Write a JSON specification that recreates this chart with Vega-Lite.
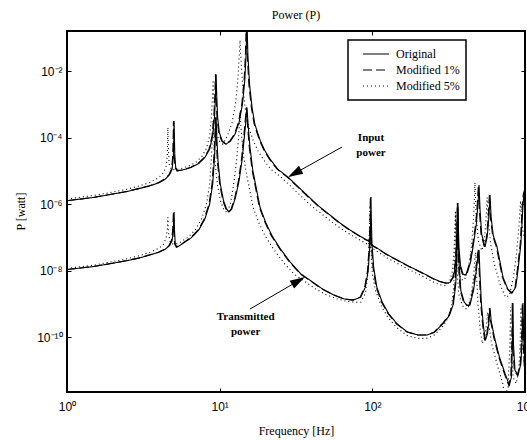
{
  "$schema": "https://vega.github.io/schema/vega-lite/v6.json",
  "width": 458,
  "height": 361,
  "autosize": {"type": "none"},
  "padding": {"left": 67, "top": 31, "right": 2, "bottom": 48},
  "background": "white",
  "config": {
    "view": {"stroke": "black", "strokeWidth": 2},
    "axis": {"grid": false, "domain": false, "tickColor": "black", "labelColor": "black", "titleColor": "black", "labelFlush": false, "labelOverlap": false, "labelBound": false},
    "legend": {"strokeWidth": 1.5}
  },
  "title": {"text": "Power (P)", "font": "Liberation Serif", "fontSize": 12, "fontWeight": "normal", "color": "black", "anchor": "middle", "offset": 9},
  "datasets": {
    "curves": [
      {"c":"IO","s":"Original","f":1,"p":1.26e-6},{"c":"IO","s":"Original","f":1.5,"p":1.58e-6},{"c":"IO","s":"Original","f":2,"p":2.0e-6},{"c":"IO","s":"Original","f":2.5,"p":2.4e-6},{"c":"IO","s":"Original","f":3,"p":2.95e-6},{"c":"IO","s":"Original","f":3.5,"p":3.55e-6},{"c":"IO","s":"Original","f":4,"p":4.37e-6},{"c":"IO","s":"Original","f":4.4,"p":5.62e-6},{"c":"IO","s":"Original","f":4.7,"p":7.59e-6},{"c":"IO","s":"Original","f":4.88,"p":1.12e-5},{"c":"IO","s":"Original","f":4.97,"p":2.51e-5},{"c":"IO","s":"Original","f":5.01,"p":1.0e-4},{"c":"IO","s":"Original","f":5.03,"p":3.16e-4},{"c":"IO","s":"Original","f":5.05,"p":1.26e-4},{"c":"IO","s":"Original","f":5.08,"p":3.16e-5},{"c":"IO","s":"Original","f":5.15,"p":1.26e-5},{"c":"IO","s":"Original","f":5.3,"p":1.0e-5},{"c":"IO","s":"Original","f":5.7,"p":1.05e-5},{"c":"IO","s":"Original","f":6.5,"p":1.26e-5},{"c":"IO","s":"Original","f":7.3,"p":1.66e-5},{"c":"IO","s":"Original","f":8.0,"p":2.51e-5},{"c":"IO","s":"Original","f":8.6,"p":4.47e-5},{"c":"IO","s":"Original","f":9.0,"p":1.12e-4},{"c":"IO","s":"Original","f":9.25,"p":3.98e-4},{"c":"IO","s":"Original","f":9.4,"p":2.0e-3},{"c":"IO","s":"Original","f":9.48,"p":7.94e-3},{"c":"IO","s":"Original","f":9.56,"p":2.0e-3},{"c":"IO","s":"Original","f":9.7,"p":3.98e-4},{"c":"IO","s":"Original","f":9.95,"p":1.41e-4},{"c":"IO","s":"Original","f":10.4,"p":7.94e-5},{"c":"IO","s":"Original","f":11.0,"p":6.31e-5},{"c":"IO","s":"Original","f":11.8,"p":7.94e-5},{"c":"IO","s":"Original","f":12.6,"p":1.26e-4},{"c":"IO","s":"Original","f":13.4,"p":2.82e-4},{"c":"IO","s":"Original","f":14.1,"p":1.0e-3},{"c":"IO","s":"Original","f":14.6,"p":5.01e-3},{"c":"IO","s":"Original","f":14.9,"p":3.16e-2},{"c":"IO","s":"Original","f":15.1,"p":3.16e-1},{"c":"IO","s":"Original","f":15.3,"p":3.16e-2},{"c":"IO","s":"Original","f":15.7,"p":3.98e-3},{"c":"IO","s":"Original","f":16.3,"p":7.94e-4},{"c":"IO","s":"Original","f":17.0,"p":2.51e-4},{"c":"IO","s":"Original","f":18.4,"p":8.32e-5},{"c":"IO","s":"Original","f":19.8,"p":3.98e-5},{"c":"IO","s":"Original","f":21.4,"p":2.24e-5},{"c":"IO","s":"Original","f":24,"p":1.12e-5},{"c":"IO","s":"Original","f":28,"p":6.46e-6},{"c":"IO","s":"Original","f":33,"p":3.16e-6},{"c":"IO","s":"Original","f":39.1,"p":1.51e-6},{"c":"IO","s":"Original","f":45,"p":8.32e-7},{"c":"IO","s":"Original","f":52.8,"p":4.68e-7},{"c":"IO","s":"Original","f":61,"p":2.75e-7},{"c":"IO","s":"Original","f":71.4,"p":1.66e-7},{"c":"IO","s":"Original","f":82,"p":1.12e-7},{"c":"IO","s":"Original","f":92,"p":8.32e-8},{"c":"IO","s":"Original","f":96,"p":7.59e-8},{"c":"IO","s":"Original","f":97.5,"p":1.41e-7},{"c":"IO","s":"Original","f":98.5,"p":6.31e-8},{"c":"IO","s":"Original","f":100.5,"p":5.62e-8},{"c":"IO","s":"Original","f":107,"p":4.79e-8},{"c":"IO","s":"Original","f":125,"p":3.02e-8},{"c":"IO","s":"Original","f":145,"p":2.09e-8},{"c":"IO","s":"Original","f":175,"p":1.32e-8},{"c":"IO","s":"Original","f":215,"p":8.32e-9},{"c":"IO","s":"Original","f":250,"p":5.75e-9},{"c":"IO","s":"Original","f":277,"p":4.68e-9},{"c":"IO","s":"Original","f":305,"p":4.17e-9},{"c":"IO","s":"Original","f":323,"p":4.37e-9},{"c":"IO","s":"Original","f":340,"p":6.31e-9},{"c":"IO","s":"Original","f":352,"p":1.58e-8},{"c":"IO","s":"Original","f":359,"p":7.94e-8},{"c":"IO","s":"Original","f":362.5,"p":3.98e-7},{"c":"IO","s":"Original","f":364,"p":1.07e-6},{"c":"IO","s":"Original","f":365.5,"p":3.16e-7},{"c":"IO","s":"Original","f":369,"p":5.01e-8},{"c":"IO","s":"Original","f":378,"p":1.41e-8},{"c":"IO","s":"Original","f":392,"p":7.94e-9},{"c":"IO","s":"Original","f":405,"p":7.24e-9},{"c":"IO","s":"Original","f":420,"p":8.91e-9},{"c":"IO","s":"Original","f":440,"p":1.78e-8},{"c":"IO","s":"Original","f":460,"p":6.31e-8},{"c":"IO","s":"Original","f":480,"p":2.51e-7},{"c":"IO","s":"Original","f":492,"p":1.0e-6},{"c":"IO","s":"Original","f":500,"p":3.72e-6},{"c":"IO","s":"Original","f":508,"p":6.31e-7},{"c":"IO","s":"Original","f":520,"p":1.26e-7},{"c":"IO","s":"Original","f":547,"p":5.13e-8},{"c":"IO","s":"Original","f":565,"p":1.0e-7},{"c":"IO","s":"Original","f":580,"p":3.98e-7},{"c":"IO","s":"Original","f":590,"p":1.86e-6},{"c":"IO","s":"Original","f":600,"p":3.98e-7},{"c":"IO","s":"Original","f":620,"p":1.12e-7},{"c":"IO","s":"Original","f":656,"p":5.13e-8},{"c":"IO","s":"Original","f":718,"p":6.31e-9},{"c":"IO","s":"Original","f":770,"p":2.82e-9},{"c":"IO","s":"Original","f":822,"p":2.09e-9},{"c":"IO","s":"Original","f":870,"p":3.16e-9},{"c":"IO","s":"Original","f":900,"p":1.05e-8},{"c":"IO","s":"Original","f":940,"p":6.31e-8},{"c":"IO","s":"Original","f":970,"p":9.33e-7},{"c":"IO","s":"Original","f":985,"p":2.0e-6},{"c":"IO","s":"Original","f":1000,"p":2.51e-6},

      {"c":"TO","s":"Original","f":1,"p":1.07e-8},{"c":"TO","s":"Original","f":1.5,"p":1.32e-8},{"c":"TO","s":"Original","f":2,"p":1.66e-8},{"c":"TO","s":"Original","f":2.5,"p":2.0e-8},{"c":"TO","s":"Original","f":3,"p":2.4e-8},{"c":"TO","s":"Original","f":3.5,"p":2.95e-8},{"c":"TO","s":"Original","f":4,"p":3.55e-8},{"c":"TO","s":"Original","f":4.4,"p":4.37e-8},{"c":"TO","s":"Original","f":4.7,"p":5.62e-8},{"c":"TO","s":"Original","f":4.88,"p":7.94e-8},{"c":"TO","s":"Original","f":4.97,"p":1.58e-7},{"c":"TO","s":"Original","f":5.03,"p":5.75e-7},{"c":"TO","s":"Original","f":5.06,"p":1.58e-7},{"c":"TO","s":"Original","f":5.12,"p":6.31e-8},{"c":"TO","s":"Original","f":5.25,"p":5.01e-8},{"c":"TO","s":"Original","f":5.6,"p":6.03e-8},{"c":"TO","s":"Original","f":6.5,"p":9.55e-8},{"c":"TO","s":"Original","f":7.3,"p":1.66e-7},{"c":"TO","s":"Original","f":8.0,"p":3.55e-7},{"c":"TO","s":"Original","f":8.6,"p":1.0e-6},{"c":"TO","s":"Original","f":9.0,"p":3.98e-6},{"c":"TO","s":"Original","f":9.25,"p":2.51e-5},{"c":"TO","s":"Original","f":9.42,"p":1.58e-4},{"c":"TO","s":"Original","f":9.48,"p":3.98e-4},{"c":"TO","s":"Original","f":9.56,"p":1.26e-4},{"c":"TO","s":"Original","f":9.75,"p":2.0e-5},{"c":"TO","s":"Original","f":10.1,"p":3.98e-6},{"c":"TO","s":"Original","f":10.6,"p":1.26e-6},{"c":"TO","s":"Original","f":11.1,"p":7.08e-7},{"c":"TO","s":"Original","f":11.5,"p":5.75e-7},{"c":"TO","s":"Original","f":12.0,"p":7.08e-7},{"c":"TO","s":"Original","f":12.7,"p":1.58e-6},{"c":"TO","s":"Original","f":13.4,"p":5.01e-6},{"c":"TO","s":"Original","f":14.0,"p":2.0e-5},{"c":"TO","s":"Original","f":14.5,"p":1.0e-4},{"c":"TO","s":"Original","f":14.85,"p":3.16e-4},{"c":"TO","s":"Original","f":15.1,"p":7.94e-4},{"c":"TO","s":"Original","f":15.35,"p":2.51e-4},{"c":"TO","s":"Original","f":15.8,"p":5.01e-5},{"c":"TO","s":"Original","f":16.5,"p":1.0e-5},{"c":"TO","s":"Original","f":17.5,"p":2.51e-6},{"c":"TO","s":"Original","f":18.4,"p":7.94e-7},{"c":"TO","s":"Original","f":20,"p":2.82e-7},{"c":"TO","s":"Original","f":22,"p":1.12e-7},{"c":"TO","s":"Original","f":25,"p":4.47e-8},{"c":"TO","s":"Original","f":29,"p":1.78e-8},{"c":"TO","s":"Original","f":34,"p":7.94e-9},{"c":"TO","s":"Original","f":39,"p":5.13e-9},{"c":"TO","s":"Original","f":47,"p":2.82e-9},{"c":"TO","s":"Original","f":55,"p":1.91e-9},{"c":"TO","s":"Original","f":65,"p":1.41e-9},{"c":"TO","s":"Original","f":75,"p":1.29e-9},{"c":"TO","s":"Original","f":84,"p":1.58e-9},{"c":"TO","s":"Original","f":90,"p":3.16e-9},{"c":"TO","s":"Original","f":94,"p":1.0e-8},{"c":"TO","s":"Original","f":96.5,"p":6.31e-8},{"c":"TO","s":"Original","f":97.6,"p":3.98e-7},{"c":"TO","s":"Original","f":98,"p":1.62e-6},{"c":"TO","s":"Original","f":98.4,"p":3.98e-7},{"c":"TO","s":"Original","f":99.5,"p":6.31e-8},{"c":"TO","s":"Original","f":102,"p":1.26e-8},{"c":"TO","s":"Original","f":107,"p":3.16e-9},{"c":"TO","s":"Original","f":116,"p":1.12e-9},{"c":"TO","s":"Original","f":128,"p":5.01e-10},{"c":"TO","s":"Original","f":145,"p":2.51e-10},{"c":"TO","s":"Original","f":170,"p":1.41e-10},{"c":"TO","s":"Original","f":200,"p":1.15e-10},{"c":"TO","s":"Original","f":228,"p":1.15e-10},{"c":"TO","s":"Original","f":255,"p":1.38e-10},{"c":"TO","s":"Original","f":290,"p":2.51e-10},{"c":"TO","s":"Original","f":320,"p":4.47e-10},{"c":"TO","s":"Original","f":340,"p":1.0e-9},{"c":"TO","s":"Original","f":352,"p":3.98e-9},{"c":"TO","s":"Original","f":359,"p":3.98e-8},{"c":"TO","s":"Original","f":362.5,"p":2.51e-7},{"c":"TO","s":"Original","f":364,"p":7.94e-7},{"c":"TO","s":"Original","f":365.5,"p":2.0e-7},{"c":"TO","s":"Original","f":369,"p":2.0e-8},{"c":"TO","s":"Original","f":380,"p":2.51e-9},{"c":"TO","s":"Original","f":400,"p":1.12e-9},{"c":"TO","s":"Original","f":420,"p":8.91e-10},{"c":"TO","s":"Original","f":436,"p":9.12e-10},{"c":"TO","s":"Original","f":460,"p":2.51e-9},{"c":"TO","s":"Original","f":480,"p":1.0e-8},{"c":"TO","s":"Original","f":494,"p":3.16e-8},{"c":"TO","s":"Original","f":500,"p":4.17e-8},{"c":"TO","s":"Original","f":506,"p":1.0e-8},{"c":"TO","s":"Original","f":518,"p":1.0e-9},{"c":"TO","s":"Original","f":535,"p":2.0e-10},{"c":"TO","s":"Original","f":550,"p":7.94e-11},{"c":"TO","s":"Original","f":568,"p":1.26e-10},{"c":"TO","s":"Original","f":582,"p":3.16e-10},{"c":"TO","s":"Original","f":590,"p":7.41e-10},{"c":"TO","s":"Original","f":600,"p":3.16e-10},{"c":"TO","s":"Original","f":630,"p":1.0e-10},{"c":"TO","s":"Original","f":680,"p":2.51e-11},{"c":"TO","s":"Original","f":740,"p":7.94e-12},{"c":"TO","s":"Original","f":790,"p":3.55e-12},{"c":"TO","s":"Original","f":815,"p":6.31e-12},{"c":"TO","s":"Original","f":828,"p":6.31e-11},{"c":"TO","s":"Original","f":834,"p":1.05e-9},{"c":"TO","s":"Original","f":840,"p":6.31e-11},{"c":"TO","s":"Original","f":860,"p":1.0e-11},{"c":"TO","s":"Original","f":900,"p":7.08e-12},{"c":"TO","s":"Original","f":940,"p":1.58e-11},{"c":"TO","s":"Original","f":960,"p":1.0e-10},{"c":"TO","s":"Original","f":970,"p":1.05e-9},{"c":"TO","s":"Original","f":980,"p":1.0e-10},{"c":"TO","s":"Original","f":1000,"p":1.26e-11},

      {"c":"I1","s":"Modified 1%","f":1,"p":1.26e-6},{"c":"I1","s":"Modified 1%","f":1.485,"p":1.58e-6},{"c":"I1","s":"Modified 1%","f":1.98,"p":2.0e-6},{"c":"I1","s":"Modified 1%","f":2.475,"p":2.4e-6},{"c":"I1","s":"Modified 1%","f":2.97,"p":2.95e-6},{"c":"I1","s":"Modified 1%","f":3.465,"p":3.55e-6},{"c":"I1","s":"Modified 1%","f":3.96,"p":4.37e-6},{"c":"I1","s":"Modified 1%","f":4.356,"p":5.62e-6},{"c":"I1","s":"Modified 1%","f":4.653,"p":7.59e-6},{"c":"I1","s":"Modified 1%","f":4.831,"p":1.12e-5},{"c":"I1","s":"Modified 1%","f":4.92,"p":2.51e-5},{"c":"I1","s":"Modified 1%","f":4.96,"p":1.0e-4},{"c":"I1","s":"Modified 1%","f":4.98,"p":3.16e-4},{"c":"I1","s":"Modified 1%","f":5.0,"p":1.26e-4},{"c":"I1","s":"Modified 1%","f":5.029,"p":3.16e-5},{"c":"I1","s":"Modified 1%","f":5.099,"p":1.26e-5},{"c":"I1","s":"Modified 1%","f":5.247,"p":1.0e-5},{"c":"I1","s":"Modified 1%","f":5.643,"p":1.05e-5},{"c":"I1","s":"Modified 1%","f":6.435,"p":1.26e-5},{"c":"I1","s":"Modified 1%","f":7.227,"p":1.66e-5},{"c":"I1","s":"Modified 1%","f":7.92,"p":2.51e-5},{"c":"I1","s":"Modified 1%","f":8.514,"p":4.47e-5},{"c":"I1","s":"Modified 1%","f":8.91,"p":1.12e-4},{"c":"I1","s":"Modified 1%","f":9.158,"p":3.98e-4},{"c":"I1","s":"Modified 1%","f":9.306,"p":2.0e-3},{"c":"I1","s":"Modified 1%","f":9.385,"p":7.94e-3},{"c":"I1","s":"Modified 1%","f":9.464,"p":2.0e-3},{"c":"I1","s":"Modified 1%","f":9.603,"p":3.98e-4},{"c":"I1","s":"Modified 1%","f":9.851,"p":1.41e-4},{"c":"I1","s":"Modified 1%","f":10.3,"p":7.94e-5},{"c":"I1","s":"Modified 1%","f":10.89,"p":6.31e-5},{"c":"I1","s":"Modified 1%","f":11.68,"p":7.94e-5},{"c":"I1","s":"Modified 1%","f":12.47,"p":1.26e-4},{"c":"I1","s":"Modified 1%","f":13.27,"p":2.82e-4},{"c":"I1","s":"Modified 1%","f":13.96,"p":1.0e-3},{"c":"I1","s":"Modified 1%","f":14.45,"p":5.01e-3},{"c":"I1","s":"Modified 1%","f":14.75,"p":3.16e-2},{"c":"I1","s":"Modified 1%","f":14.95,"p":3.16e-1},{"c":"I1","s":"Modified 1%","f":15.15,"p":3.16e-2},{"c":"I1","s":"Modified 1%","f":15.54,"p":3.98e-3},{"c":"I1","s":"Modified 1%","f":16.14,"p":7.94e-4},{"c":"I1","s":"Modified 1%","f":16.83,"p":2.51e-4},{"c":"I1","s":"Modified 1%","f":18.22,"p":8.32e-5},{"c":"I1","s":"Modified 1%","f":19.6,"p":3.98e-5},{"c":"I1","s":"Modified 1%","f":21.19,"p":2.24e-5},{"c":"I1","s":"Modified 1%","f":23.76,"p":1.12e-5},{"c":"I1","s":"Modified 1%","f":27.72,"p":6.46e-6},{"c":"I1","s":"Modified 1%","f":32.67,"p":3.16e-6},{"c":"I1","s":"Modified 1%","f":38.71,"p":1.51e-6},{"c":"I1","s":"Modified 1%","f":44.55,"p":8.32e-7},{"c":"I1","s":"Modified 1%","f":52.27,"p":4.68e-7},{"c":"I1","s":"Modified 1%","f":60.39,"p":2.75e-7},{"c":"I1","s":"Modified 1%","f":70.69,"p":1.66e-7},{"c":"I1","s":"Modified 1%","f":81.18,"p":1.12e-7},{"c":"I1","s":"Modified 1%","f":91.08,"p":8.32e-8},{"c":"I1","s":"Modified 1%","f":95.04,"p":7.59e-8},{"c":"I1","s":"Modified 1%","f":96.53,"p":1.41e-7},{"c":"I1","s":"Modified 1%","f":97.52,"p":6.31e-8},{"c":"I1","s":"Modified 1%","f":99.5,"p":5.62e-8},{"c":"I1","s":"Modified 1%","f":105.9,"p":4.79e-8},{"c":"I1","s":"Modified 1%","f":123.8,"p":3.02e-8},{"c":"I1","s":"Modified 1%","f":143.6,"p":2.09e-8},{"c":"I1","s":"Modified 1%","f":173.3,"p":1.32e-8},{"c":"I1","s":"Modified 1%","f":212.9,"p":8.32e-9},{"c":"I1","s":"Modified 1%","f":247.5,"p":5.75e-9},{"c":"I1","s":"Modified 1%","f":274.2,"p":4.68e-9},{"c":"I1","s":"Modified 1%","f":302,"p":4.17e-9},{"c":"I1","s":"Modified 1%","f":319.8,"p":4.37e-9},{"c":"I1","s":"Modified 1%","f":336.6,"p":6.31e-9},{"c":"I1","s":"Modified 1%","f":348.5,"p":1.58e-8},{"c":"I1","s":"Modified 1%","f":355.4,"p":7.94e-8},{"c":"I1","s":"Modified 1%","f":358.9,"p":3.98e-7},{"c":"I1","s":"Modified 1%","f":360.4,"p":1.07e-6},{"c":"I1","s":"Modified 1%","f":361.8,"p":3.16e-7},{"c":"I1","s":"Modified 1%","f":365.3,"p":5.01e-8},{"c":"I1","s":"Modified 1%","f":374.2,"p":1.41e-8},{"c":"I1","s":"Modified 1%","f":388.1,"p":7.94e-9},{"c":"I1","s":"Modified 1%","f":401,"p":7.24e-9},{"c":"I1","s":"Modified 1%","f":415.8,"p":8.91e-9},{"c":"I1","s":"Modified 1%","f":435.6,"p":1.78e-8},{"c":"I1","s":"Modified 1%","f":455.4,"p":6.31e-8},{"c":"I1","s":"Modified 1%","f":475.2,"p":2.51e-7},{"c":"I1","s":"Modified 1%","f":487.1,"p":1.0e-6},{"c":"I1","s":"Modified 1%","f":495,"p":3.72e-6},{"c":"I1","s":"Modified 1%","f":502.9,"p":6.31e-7},{"c":"I1","s":"Modified 1%","f":514.8,"p":1.26e-7},{"c":"I1","s":"Modified 1%","f":541.5,"p":5.13e-8},{"c":"I1","s":"Modified 1%","f":559.4,"p":1.0e-7},{"c":"I1","s":"Modified 1%","f":574.2,"p":3.98e-7},{"c":"I1","s":"Modified 1%","f":584.1,"p":1.86e-6},{"c":"I1","s":"Modified 1%","f":594,"p":3.98e-7},{"c":"I1","s":"Modified 1%","f":613.8,"p":1.12e-7},{"c":"I1","s":"Modified 1%","f":649.4,"p":5.13e-8},{"c":"I1","s":"Modified 1%","f":710.8,"p":6.31e-9},{"c":"I1","s":"Modified 1%","f":762.3,"p":2.82e-9},{"c":"I1","s":"Modified 1%","f":813.8,"p":2.09e-9},{"c":"I1","s":"Modified 1%","f":861.3,"p":3.16e-9},{"c":"I1","s":"Modified 1%","f":891,"p":1.05e-8},{"c":"I1","s":"Modified 1%","f":930.6,"p":6.31e-8},{"c":"I1","s":"Modified 1%","f":960.3,"p":9.33e-7},{"c":"I1","s":"Modified 1%","f":975.2,"p":2.0e-6},{"c":"I1","s":"Modified 1%","f":990,"p":2.51e-6},{"c":"I1","s":"Modified 1%","f":1000,"p":2.7e-6},

      {"c":"T1","s":"Modified 1%","f":1,"p":1.07e-8},{"c":"T1","s":"Modified 1%","f":1.485,"p":1.32e-8},{"c":"T1","s":"Modified 1%","f":1.98,"p":1.66e-8},{"c":"T1","s":"Modified 1%","f":2.475,"p":2.0e-8},{"c":"T1","s":"Modified 1%","f":2.97,"p":2.4e-8},{"c":"T1","s":"Modified 1%","f":3.465,"p":2.95e-8},{"c":"T1","s":"Modified 1%","f":3.96,"p":3.55e-8},{"c":"T1","s":"Modified 1%","f":4.356,"p":4.37e-8},{"c":"T1","s":"Modified 1%","f":4.653,"p":5.62e-8},{"c":"T1","s":"Modified 1%","f":4.831,"p":7.94e-8},{"c":"T1","s":"Modified 1%","f":4.92,"p":1.58e-7},{"c":"T1","s":"Modified 1%","f":4.98,"p":5.75e-7},{"c":"T1","s":"Modified 1%","f":5.009,"p":1.58e-7},{"c":"T1","s":"Modified 1%","f":5.069,"p":6.31e-8},{"c":"T1","s":"Modified 1%","f":5.198,"p":5.01e-8},{"c":"T1","s":"Modified 1%","f":5.544,"p":6.03e-8},{"c":"T1","s":"Modified 1%","f":6.435,"p":9.55e-8},{"c":"T1","s":"Modified 1%","f":7.227,"p":1.66e-7},{"c":"T1","s":"Modified 1%","f":7.92,"p":3.55e-7},{"c":"T1","s":"Modified 1%","f":8.514,"p":1.0e-6},{"c":"T1","s":"Modified 1%","f":8.91,"p":3.98e-6},{"c":"T1","s":"Modified 1%","f":9.158,"p":2.51e-5},{"c":"T1","s":"Modified 1%","f":9.326,"p":1.58e-4},{"c":"T1","s":"Modified 1%","f":9.385,"p":3.98e-4},{"c":"T1","s":"Modified 1%","f":9.464,"p":1.26e-4},{"c":"T1","s":"Modified 1%","f":9.653,"p":2.0e-5},{"c":"T1","s":"Modified 1%","f":10.0,"p":3.98e-6},{"c":"T1","s":"Modified 1%","f":10.49,"p":1.26e-6},{"c":"T1","s":"Modified 1%","f":10.99,"p":7.08e-7},{"c":"T1","s":"Modified 1%","f":11.39,"p":5.75e-7},{"c":"T1","s":"Modified 1%","f":11.88,"p":7.08e-7},{"c":"T1","s":"Modified 1%","f":12.57,"p":1.58e-6},{"c":"T1","s":"Modified 1%","f":13.27,"p":5.01e-6},{"c":"T1","s":"Modified 1%","f":13.86,"p":2.0e-5},{"c":"T1","s":"Modified 1%","f":14.36,"p":1.0e-4},{"c":"T1","s":"Modified 1%","f":14.7,"p":3.16e-4},{"c":"T1","s":"Modified 1%","f":14.95,"p":7.94e-4},{"c":"T1","s":"Modified 1%","f":15.2,"p":2.51e-4},{"c":"T1","s":"Modified 1%","f":15.64,"p":5.01e-5},{"c":"T1","s":"Modified 1%","f":16.34,"p":1.0e-5},{"c":"T1","s":"Modified 1%","f":17.33,"p":2.51e-6},{"c":"T1","s":"Modified 1%","f":18.22,"p":7.94e-7},{"c":"T1","s":"Modified 1%","f":19.8,"p":2.82e-7},{"c":"T1","s":"Modified 1%","f":21.78,"p":1.12e-7},{"c":"T1","s":"Modified 1%","f":24.75,"p":4.47e-8},{"c":"T1","s":"Modified 1%","f":28.71,"p":1.78e-8},{"c":"T1","s":"Modified 1%","f":33.66,"p":7.94e-9},{"c":"T1","s":"Modified 1%","f":38.61,"p":5.13e-9},{"c":"T1","s":"Modified 1%","f":46.53,"p":2.82e-9},{"c":"T1","s":"Modified 1%","f":54.45,"p":1.91e-9},{"c":"T1","s":"Modified 1%","f":64.35,"p":1.41e-9},{"c":"T1","s":"Modified 1%","f":74.25,"p":1.29e-9},{"c":"T1","s":"Modified 1%","f":83.16,"p":1.58e-9},{"c":"T1","s":"Modified 1%","f":89.1,"p":3.16e-9},{"c":"T1","s":"Modified 1%","f":93.06,"p":1.0e-8},{"c":"T1","s":"Modified 1%","f":95.54,"p":6.31e-8},{"c":"T1","s":"Modified 1%","f":96.62,"p":3.98e-7},{"c":"T1","s":"Modified 1%","f":97.02,"p":1.62e-6},{"c":"T1","s":"Modified 1%","f":97.42,"p":3.98e-7},{"c":"T1","s":"Modified 1%","f":98.51,"p":6.31e-8},{"c":"T1","s":"Modified 1%","f":101,"p":1.26e-8},{"c":"T1","s":"Modified 1%","f":105.9,"p":3.16e-9},{"c":"T1","s":"Modified 1%","f":114.8,"p":1.12e-9},{"c":"T1","s":"Modified 1%","f":126.7,"p":5.01e-10},{"c":"T1","s":"Modified 1%","f":143.6,"p":2.51e-10},{"c":"T1","s":"Modified 1%","f":168.3,"p":1.41e-10},{"c":"T1","s":"Modified 1%","f":198,"p":1.15e-10},{"c":"T1","s":"Modified 1%","f":225.7,"p":1.15e-10},{"c":"T1","s":"Modified 1%","f":252.5,"p":1.38e-10},{"c":"T1","s":"Modified 1%","f":287.1,"p":2.51e-10},{"c":"T1","s":"Modified 1%","f":316.8,"p":4.47e-10},{"c":"T1","s":"Modified 1%","f":336.6,"p":1.0e-9},{"c":"T1","s":"Modified 1%","f":348.5,"p":3.98e-9},{"c":"T1","s":"Modified 1%","f":355.4,"p":3.98e-8},{"c":"T1","s":"Modified 1%","f":358.9,"p":2.51e-7},{"c":"T1","s":"Modified 1%","f":360.4,"p":7.94e-7},{"c":"T1","s":"Modified 1%","f":361.8,"p":2.0e-7},{"c":"T1","s":"Modified 1%","f":365.3,"p":2.0e-8},{"c":"T1","s":"Modified 1%","f":376.2,"p":2.51e-9},{"c":"T1","s":"Modified 1%","f":396,"p":1.12e-9},{"c":"T1","s":"Modified 1%","f":415.8,"p":8.91e-10},{"c":"T1","s":"Modified 1%","f":431.6,"p":9.12e-10},{"c":"T1","s":"Modified 1%","f":455.4,"p":2.51e-9},{"c":"T1","s":"Modified 1%","f":475.2,"p":1.0e-8},{"c":"T1","s":"Modified 1%","f":489.1,"p":3.16e-8},{"c":"T1","s":"Modified 1%","f":495,"p":4.17e-8},{"c":"T1","s":"Modified 1%","f":500.9,"p":1.0e-8},{"c":"T1","s":"Modified 1%","f":512.8,"p":1.0e-9},{"c":"T1","s":"Modified 1%","f":529.7,"p":2.0e-10},{"c":"T1","s":"Modified 1%","f":544.5,"p":7.94e-11},{"c":"T1","s":"Modified 1%","f":562.3,"p":1.26e-10},{"c":"T1","s":"Modified 1%","f":576.2,"p":3.16e-10},{"c":"T1","s":"Modified 1%","f":584.1,"p":7.41e-10},{"c":"T1","s":"Modified 1%","f":594,"p":3.16e-10},{"c":"T1","s":"Modified 1%","f":623.7,"p":1.0e-10},{"c":"T1","s":"Modified 1%","f":673.2,"p":2.51e-11},{"c":"T1","s":"Modified 1%","f":732.6,"p":7.94e-12},{"c":"T1","s":"Modified 1%","f":782.1,"p":3.55e-12},{"c":"T1","s":"Modified 1%","f":806.9,"p":6.31e-12},{"c":"T1","s":"Modified 1%","f":819.7,"p":6.31e-11},{"c":"T1","s":"Modified 1%","f":825.7,"p":1.05e-9},{"c":"T1","s":"Modified 1%","f":831.6,"p":6.31e-11},{"c":"T1","s":"Modified 1%","f":851.4,"p":1.0e-11},{"c":"T1","s":"Modified 1%","f":891,"p":7.08e-12},{"c":"T1","s":"Modified 1%","f":930.6,"p":1.58e-11},{"c":"T1","s":"Modified 1%","f":950.4,"p":1.0e-10},{"c":"T1","s":"Modified 1%","f":960.3,"p":1.05e-9},{"c":"T1","s":"Modified 1%","f":970.2,"p":1.0e-10},{"c":"T1","s":"Modified 1%","f":990,"p":1.26e-11},{"c":"T1","s":"Modified 1%","f":1000,"p":1.1e-11},

      {"c":"I5","s":"Modified 5%","f":1,"p":1.41e-6},{"c":"I5","s":"Modified 5%","f":1.5,"p":1.82e-6},{"c":"I5","s":"Modified 5%","f":2,"p":2.29e-6},{"c":"I5","s":"Modified 5%","f":2.5,"p":2.82e-6},{"c":"I5","s":"Modified 5%","f":3,"p":3.55e-6},{"c":"I5","s":"Modified 5%","f":3.5,"p":4.47e-6},{"c":"I5","s":"Modified 5%","f":4,"p":6.31e-6},{"c":"I5","s":"Modified 5%","f":4.3,"p":8.91e-6},{"c":"I5","s":"Modified 5%","f":4.47,"p":1.41e-5},{"c":"I5","s":"Modified 5%","f":4.54,"p":3.16e-5},{"c":"I5","s":"Modified 5%","f":4.58,"p":2.0e-4},{"c":"I5","s":"Modified 5%","f":4.61,"p":5.01e-5},{"c":"I5","s":"Modified 5%","f":4.67,"p":1.58e-5},{"c":"I5","s":"Modified 5%","f":4.85,"p":1.07e-5},{"c":"I5","s":"Modified 5%","f":5.44,"p":1.12e-5},{"c":"I5","s":"Modified 5%","f":6.21,"p":1.35e-5},{"c":"I5","s":"Modified 5%","f":6.97,"p":1.78e-5},{"c":"I5","s":"Modified 5%","f":7.64,"p":2.69e-5},{"c":"I5","s":"Modified 5%","f":8.21,"p":4.79e-5},{"c":"I5","s":"Modified 5%","f":8.6,"p":1.12e-4},{"c":"I5","s":"Modified 5%","f":8.83,"p":3.98e-4},{"c":"I5","s":"Modified 5%","f":8.98,"p":1.78e-3},{"c":"I5","s":"Modified 5%","f":9.05,"p":5.37e-3},{"c":"I5","s":"Modified 5%","f":9.13,"p":1.78e-3},{"c":"I5","s":"Modified 5%","f":9.26,"p":3.98e-4},{"c":"I5","s":"Modified 5%","f":9.5,"p":1.41e-4},{"c":"I5","s":"Modified 5%","f":9.93,"p":7.94e-5},{"c":"I5","s":"Modified 5%","f":10.5,"p":6.31e-5},{"c":"I5","s":"Modified 5%","f":11.34,"p":1.26e-4},{"c":"I5","s":"Modified 5%","f":12.06,"p":2.82e-4},{"c":"I5","s":"Modified 5%","f":12.69,"p":1.0e-3},{"c":"I5","s":"Modified 5%","f":13.14,"p":5.01e-3},{"c":"I5","s":"Modified 5%","f":13.41,"p":2.51e-2},{"c":"I5","s":"Modified 5%","f":13.59,"p":8.51e-2},{"c":"I5","s":"Modified 5%","f":13.77,"p":2.51e-2},{"c":"I5","s":"Modified 5%","f":14.13,"p":3.98e-3},{"c":"I5","s":"Modified 5%","f":14.67,"p":7.94e-4},{"c":"I5","s":"Modified 5%","f":15.3,"p":2.51e-4},{"c":"I5","s":"Modified 5%","f":16.56,"p":8.32e-5},{"c":"I5","s":"Modified 5%","f":17.82,"p":3.98e-5},{"c":"I5","s":"Modified 5%","f":19.26,"p":2.24e-5},{"c":"I5","s":"Modified 5%","f":21.6,"p":1.12e-5},{"c":"I5","s":"Modified 5%","f":25.2,"p":6.46e-6},{"c":"I5","s":"Modified 5%","f":29.7,"p":3.16e-6},{"c":"I5","s":"Modified 5%","f":35.2,"p":1.51e-6},{"c":"I5","s":"Modified 5%","f":40.5,"p":8.32e-7},{"c":"I5","s":"Modified 5%","f":47.5,"p":4.68e-7},{"c":"I5","s":"Modified 5%","f":54.9,"p":2.75e-7},{"c":"I5","s":"Modified 5%","f":64.3,"p":1.66e-7},{"c":"I5","s":"Modified 5%","f":73.8,"p":1.12e-7},{"c":"I5","s":"Modified 5%","f":82.8,"p":8.32e-8},{"c":"I5","s":"Modified 5%","f":92,"p":6.31e-8},{"c":"I5","s":"Modified 5%","f":95,"p":6.03e-8},{"c":"I5","s":"Modified 5%","f":96.5,"p":1.0e-7},{"c":"I5","s":"Modified 5%","f":97.5,"p":5.01e-8},{"c":"I5","s":"Modified 5%","f":100,"p":4.68e-8},{"c":"I5","s":"Modified 5%","f":107,"p":3.8e-8},{"c":"I5","s":"Modified 5%","f":125,"p":2.4e-8},{"c":"I5","s":"Modified 5%","f":145,"p":1.66e-8},{"c":"I5","s":"Modified 5%","f":175,"p":1.05e-8},{"c":"I5","s":"Modified 5%","f":215,"p":6.61e-9},{"c":"I5","s":"Modified 5%","f":250,"p":4.57e-9},{"c":"I5","s":"Modified 5%","f":277,"p":3.72e-9},{"c":"I5","s":"Modified 5%","f":300,"p":3.55e-9},{"c":"I5","s":"Modified 5%","f":320,"p":4.47e-9},{"c":"I5","s":"Modified 5%","f":335,"p":1.0e-8},{"c":"I5","s":"Modified 5%","f":343,"p":3.98e-8},{"c":"I5","s":"Modified 5%","f":348,"p":2.51e-7},{"c":"I5","s":"Modified 5%","f":350,"p":6.31e-7},{"c":"I5","s":"Modified 5%","f":352,"p":1.58e-7},{"c":"I5","s":"Modified 5%","f":356,"p":2.51e-8},{"c":"I5","s":"Modified 5%","f":365,"p":1.0e-8},{"c":"I5","s":"Modified 5%","f":380,"p":5.62e-9},{"c":"I5","s":"Modified 5%","f":395,"p":5.01e-9},{"c":"I5","s":"Modified 5%","f":410,"p":6.31e-9},{"c":"I5","s":"Modified 5%","f":430,"p":1.58e-8},{"c":"I5","s":"Modified 5%","f":448,"p":6.31e-8},{"c":"I5","s":"Modified 5%","f":462,"p":5.01e-7},{"c":"I5","s":"Modified 5%","f":470,"p":4.47e-6},{"c":"I5","s":"Modified 5%","f":478,"p":5.01e-7},{"c":"I5","s":"Modified 5%","f":495,"p":7.94e-8},{"c":"I5","s":"Modified 5%","f":520,"p":3.98e-8},{"c":"I5","s":"Modified 5%","f":540,"p":6.31e-8},{"c":"I5","s":"Modified 5%","f":555,"p":3.16e-7},{"c":"I5","s":"Modified 5%","f":565,"p":1.58e-6},{"c":"I5","s":"Modified 5%","f":575,"p":3.16e-7},{"c":"I5","s":"Modified 5%","f":595,"p":6.31e-8},{"c":"I5","s":"Modified 5%","f":630,"p":1.58e-8},{"c":"I5","s":"Modified 5%","f":690,"p":3.55e-9},{"c":"I5","s":"Modified 5%","f":745,"p":1.58e-9},{"c":"I5","s":"Modified 5%","f":790,"p":1.78e-9},{"c":"I5","s":"Modified 5%","f":840,"p":6.31e-9},{"c":"I5","s":"Modified 5%","f":880,"p":3.16e-8},{"c":"I5","s":"Modified 5%","f":915,"p":2.51e-7},{"c":"I5","s":"Modified 5%","f":935,"p":1.26e-6},{"c":"I5","s":"Modified 5%","f":950,"p":3.16e-7},{"c":"I5","s":"Modified 5%","f":1000,"p":6.31e-8},

      {"c":"T5","s":"Modified 5%","f":1,"p":1.17e-8},{"c":"T5","s":"Modified 5%","f":1.5,"p":1.45e-8},{"c":"T5","s":"Modified 5%","f":2,"p":1.86e-8},{"c":"T5","s":"Modified 5%","f":2.5,"p":2.29e-8},{"c":"T5","s":"Modified 5%","f":3,"p":2.82e-8},{"c":"T5","s":"Modified 5%","f":3.5,"p":3.55e-8},{"c":"T5","s":"Modified 5%","f":4,"p":4.68e-8},{"c":"T5","s":"Modified 5%","f":4.3,"p":6.31e-8},{"c":"T5","s":"Modified 5%","f":4.47,"p":1.0e-7},{"c":"T5","s":"Modified 5%","f":4.54,"p":1.78e-7},{"c":"T5","s":"Modified 5%","f":4.58,"p":3.98e-7},{"c":"T5","s":"Modified 5%","f":4.61,"p":1.58e-7},{"c":"T5","s":"Modified 5%","f":4.7,"p":7.94e-8},{"c":"T5","s":"Modified 5%","f":4.85,"p":6.31e-8},{"c":"T5","s":"Modified 5%","f":5.35,"p":6.46e-8},{"c":"T5","s":"Modified 5%","f":6.21,"p":1.0e-7},{"c":"T5","s":"Modified 5%","f":6.97,"p":1.74e-7},{"c":"T5","s":"Modified 5%","f":7.64,"p":3.72e-7},{"c":"T5","s":"Modified 5%","f":8.21,"p":1.05e-6},{"c":"T5","s":"Modified 5%","f":8.6,"p":3.98e-6},{"c":"T5","s":"Modified 5%","f":8.83,"p":2.51e-5},{"c":"T5","s":"Modified 5%","f":9.0,"p":1.58e-4},{"c":"T5","s":"Modified 5%","f":9.05,"p":3.16e-4},{"c":"T5","s":"Modified 5%","f":9.13,"p":1.26e-4},{"c":"T5","s":"Modified 5%","f":9.31,"p":2.0e-5},{"c":"T5","s":"Modified 5%","f":9.65,"p":3.98e-6},{"c":"T5","s":"Modified 5%","f":10.12,"p":1.26e-6},{"c":"T5","s":"Modified 5%","f":10.6,"p":7.08e-7},{"c":"T5","s":"Modified 5%","f":11.2,"p":5.37e-7},{"c":"T5","s":"Modified 5%","f":11.8,"p":1.12e-6},{"c":"T5","s":"Modified 5%","f":12.4,"p":4.47e-6},{"c":"T5","s":"Modified 5%","f":12.9,"p":2.0e-5},{"c":"T5","s":"Modified 5%","f":13.3,"p":1.0e-4},{"c":"T5","s":"Modified 5%","f":13.6,"p":5.62e-4},{"c":"T5","s":"Modified 5%","f":13.85,"p":1.58e-4},{"c":"T5","s":"Modified 5%","f":14.2,"p":3.98e-5},{"c":"T5","s":"Modified 5%","f":14.85,"p":1.0e-5},{"c":"T5","s":"Modified 5%","f":15.75,"p":2.51e-6},{"c":"T5","s":"Modified 5%","f":16.56,"p":7.94e-7},{"c":"T5","s":"Modified 5%","f":18,"p":2.82e-7},{"c":"T5","s":"Modified 5%","f":19.8,"p":1.12e-7},{"c":"T5","s":"Modified 5%","f":22.5,"p":4.47e-8},{"c":"T5","s":"Modified 5%","f":26.1,"p":1.78e-8},{"c":"T5","s":"Modified 5%","f":30.6,"p":7.94e-9},{"c":"T5","s":"Modified 5%","f":35.1,"p":5.13e-9},{"c":"T5","s":"Modified 5%","f":42.3,"p":2.82e-9},{"c":"T5","s":"Modified 5%","f":49.5,"p":1.91e-9},{"c":"T5","s":"Modified 5%","f":58.5,"p":1.41e-9},{"c":"T5","s":"Modified 5%","f":67.5,"p":1.2e-9},{"c":"T5","s":"Modified 5%","f":76,"p":1.12e-9},{"c":"T5","s":"Modified 5%","f":84,"p":1.12e-9},{"c":"T5","s":"Modified 5%","f":90,"p":2.0e-9},{"c":"T5","s":"Modified 5%","f":93,"p":6.31e-9},{"c":"T5","s":"Modified 5%","f":95,"p":3.98e-8},{"c":"T5","s":"Modified 5%","f":96,"p":2.51e-7},{"c":"T5","s":"Modified 5%","f":96.5,"p":7.94e-7},{"c":"T5","s":"Modified 5%","f":97,"p":2.51e-7},{"c":"T5","s":"Modified 5%","f":98,"p":3.98e-8},{"c":"T5","s":"Modified 5%","f":100,"p":7.94e-9},{"c":"T5","s":"Modified 5%","f":105,"p":2.51e-9},{"c":"T5","s":"Modified 5%","f":114,"p":8.91e-10},{"c":"T5","s":"Modified 5%","f":126,"p":3.98e-10},{"c":"T5","s":"Modified 5%","f":143,"p":2.0e-10},{"c":"T5","s":"Modified 5%","f":168,"p":1.12e-10},{"c":"T5","s":"Modified 5%","f":198,"p":9.12e-11},{"c":"T5","s":"Modified 5%","f":226,"p":9.12e-11},{"c":"T5","s":"Modified 5%","f":252,"p":1.1e-10},{"c":"T5","s":"Modified 5%","f":285,"p":1.91e-10},{"c":"T5","s":"Modified 5%","f":312,"p":3.55e-10},{"c":"T5","s":"Modified 5%","f":330,"p":7.94e-10},{"c":"T5","s":"Modified 5%","f":341,"p":3.16e-9},{"c":"T5","s":"Modified 5%","f":347,"p":3.16e-8},{"c":"T5","s":"Modified 5%","f":350,"p":2.0e-7},{"c":"T5","s":"Modified 5%","f":351.5,"p":5.01e-7},{"c":"T5","s":"Modified 5%","f":353,"p":1.58e-7},{"c":"T5","s":"Modified 5%","f":357,"p":1.58e-8},{"c":"T5","s":"Modified 5%","f":368,"p":2.0e-9},{"c":"T5","s":"Modified 5%","f":388,"p":8.91e-10},{"c":"T5","s":"Modified 5%","f":408,"p":7.08e-10},{"c":"T5","s":"Modified 5%","f":424,"p":7.24e-10},{"c":"T5","s":"Modified 5%","f":445,"p":2.0e-9},{"c":"T5","s":"Modified 5%","f":460,"p":6.31e-9},{"c":"T5","s":"Modified 5%","f":470,"p":2.51e-8},{"c":"T5","s":"Modified 5%","f":475,"p":3.55e-8},{"c":"T5","s":"Modified 5%","f":480,"p":1.0e-8},{"c":"T5","s":"Modified 5%","f":492,"p":1.0e-9},{"c":"T5","s":"Modified 5%","f":510,"p":1.58e-10},{"c":"T5","s":"Modified 5%","f":525,"p":6.31e-11},{"c":"T5","s":"Modified 5%","f":545,"p":1.0e-10},{"c":"T5","s":"Modified 5%","f":560,"p":2.51e-10},{"c":"T5","s":"Modified 5%","f":568,"p":5.62e-10},{"c":"T5","s":"Modified 5%","f":578,"p":2.51e-10},{"c":"T5","s":"Modified 5%","f":605,"p":6.31e-11},{"c":"T5","s":"Modified 5%","f":655,"p":1.58e-11},{"c":"T5","s":"Modified 5%","f":715,"p":3.98e-12},{"c":"T5","s":"Modified 5%","f":740,"p":1.58e-12},{"c":"T5","s":"Modified 5%","f":775,"p":3.16e-12},{"c":"T5","s":"Modified 5%","f":795,"p":5.01e-11},{"c":"T5","s":"Modified 5%","f":805,"p":7.94e-10},{"c":"T5","s":"Modified 5%","f":812,"p":5.01e-11},{"c":"T5","s":"Modified 5%","f":835,"p":6.31e-12},{"c":"T5","s":"Modified 5%","f":875,"p":3.98e-12},{"c":"T5","s":"Modified 5%","f":910,"p":1.0e-11},{"c":"T5","s":"Modified 5%","f":930,"p":6.31e-11},{"c":"T5","s":"Modified 5%","f":940,"p":7.94e-10},{"c":"T5","s":"Modified 5%","f":950,"p":7.94e-11},{"c":"T5","s":"Modified 5%","f":1000,"p":1.0e-11}
    ],
    "arrows": [
      {"a":"in","f":63.3,"p":5.18e-5,"f2":30.96,"p2":8.32e-6},
      {"a":"tr","f":15.8,"p":6.95e-10,"f2":32.8,"p2":4.9e-9}
    ],
    "labels": [
      {"t":"Input","f":98,"p":9.66e-5},
      {"t":"power","f":98,"p":3.42e-5},
      {"t":"Transmitted","f":14.8,"p":4.0e-10},
      {"t":"power","f":14.8,"p":1.41e-10}
    ]
  },
  "resolve": {"axis": {"x": "independent", "y": "independent"}},
  "layer": [
    {
      "data": {"name": "curves"},
      "mark": {"type": "line", "clip": true, "strokeWidth": 1.1, "color": "#000000", "strokeCap": "butt"},
      "encoding": {
        "x": {"field": "f", "type": "quantitative",
          "scale": {"type": "log", "domain": [1, 1000], "nice": false},
          "axis": {"orient": "bottom", "values": [1, 10, 100, 1000], "title": "Frequency [Hz]",
            "labelExpr": "datum.value < 5 ? '10\u2070' : datum.value < 50 ? '10\u00b9' : datum.value < 500 ? '10\u00b2' : '10\u00b3'",
            "tickSize": -4, "labelPadding": 13, "labelFont": "Liberation Sans", "labelFontSize": 12,
            "titleFont": "Liberation Serif", "titleFontSize": 12, "titleFontWeight": "normal",
            "titleX": 229, "titleY": 38, "titleBaseline": "middle"}},
        "y": {"field": "p", "type": "quantitative",
          "scale": {"type": "log", "domain": [2.22e-12, 0.16], "nice": false},
          "axis": {"orient": "left", "values": [1e-10, 1e-8, 1e-6, 1e-4, 1e-2], "title": "P [watt]",
            "labelExpr": "datum.value > 1e-3 ? '10\u207b\u00b2' : datum.value > 1e-5 ? '10\u207b\u2074' : datum.value > 1e-7 ? '10\u207b\u2076' : datum.value > 1e-9 ? '10\u207b\u2078' : '10\u207b\u00b9\u2070'",
            "tickSize": -4, "labelPadding": 9, "labelFont": "Liberation Sans", "labelFontSize": 12,
            "titleFont": "Liberation Serif", "titleFontSize": 12, "titleFontWeight": "normal",
            "titleX": -47, "titleY": 180, "titleBaseline": "middle", "titleAlign": "center"}},
        "detail": {"field": "c", "type": "nominal"},
        "strokeDash": {"field": "s", "type": "nominal",
          "scale": {"domain": ["Original", "Modified 1%", "Modified 5%"], "range": [[1, 0], [9, 4], [1, 3]]},
          "legend": {"orient": "none", "legendX": 281, "legendY": 9, "title": null,
            "symbolType": "stroke", "symbolSize": 676, "symbolStrokeWidth": 1.2, "symbolStrokeColor": "black",
            "symbolOffset": 8, "labelFont": "Liberation Serif", "labelFontSize": 12, "labelColor": "black",
            "labelOffset": 6, "padding": 6, "clipHeight": 16, "rowPadding": 0,
            "strokeColor": "black", "fillColor": "white"}}
      }
    },
    {
      "data": {"name": "arrows"},
      "mark": {"type": "rule", "color": "black", "strokeWidth": 1},
      "encoding": {
        "x": {"field": "f", "type": "quantitative", "scale": {"type": "log", "domain": [1, 1000], "nice": false}, "axis": null},
        "y": {"field": "p", "type": "quantitative", "scale": {"type": "log", "domain": [2.22e-12, 0.16], "nice": false}, "axis": null},
        "x2": {"field": "f2"},
        "y2": {"field": "p2"}
      }
    },
    {
      "data": {"name": "arrows"},
      "transform": [{"filter": "datum.a == 'in'"}],
      "mark": {"type": "point", "shape": "M0,-1L0.6,1L-0.6,1Z", "filled": true, "color": "black", "opacity": 1, "size": 225, "angle": 241},
      "encoding": {
        "x": {"field": "f2", "type": "quantitative", "scale": {"type": "log", "domain": [1, 1000], "nice": false}, "axis": null},
        "y": {"field": "p2", "type": "quantitative", "scale": {"type": "log", "domain": [2.22e-12, 0.16], "nice": false}, "axis": null}
      }
    },
    {
      "data": {"name": "arrows"},
      "transform": [{"filter": "datum.a == 'tr'"}],
      "mark": {"type": "point", "shape": "M0,-1L0.6,1L-0.6,1Z", "filled": true, "color": "black", "opacity": 1, "size": 225, "angle": 60},
      "encoding": {
        "x": {"field": "f2", "type": "quantitative", "scale": {"type": "log", "domain": [1, 1000], "nice": false}, "axis": null},
        "y": {"field": "p2", "type": "quantitative", "scale": {"type": "log", "domain": [2.22e-12, 0.16], "nice": false}, "axis": null}
      }
    },
    {
      "data": {"name": "labels"},
      "mark": {"type": "text", "font": "Liberation Serif", "fontSize": 11, "fontWeight": "bold", "color": "black", "align": "center", "baseline": "middle"},
      "encoding": {
        "x": {"field": "f", "type": "quantitative", "scale": {"type": "log", "domain": [1, 1000], "nice": false},
          "axis": {"orient": "top", "values": [10, 100], "labels": false, "title": null, "tickSize": -4}},
        "y": {"field": "p", "type": "quantitative", "scale": {"type": "log", "domain": [2.22e-12, 0.16], "nice": false},
          "axis": {"orient": "right", "values": [1e-10, 1e-8, 1e-6, 1e-4, 1e-2], "labels": false, "title": null, "tickSize": -4}},
        "text": {"field": "t", "type": "nominal"}
      }
    }
  ]
}
